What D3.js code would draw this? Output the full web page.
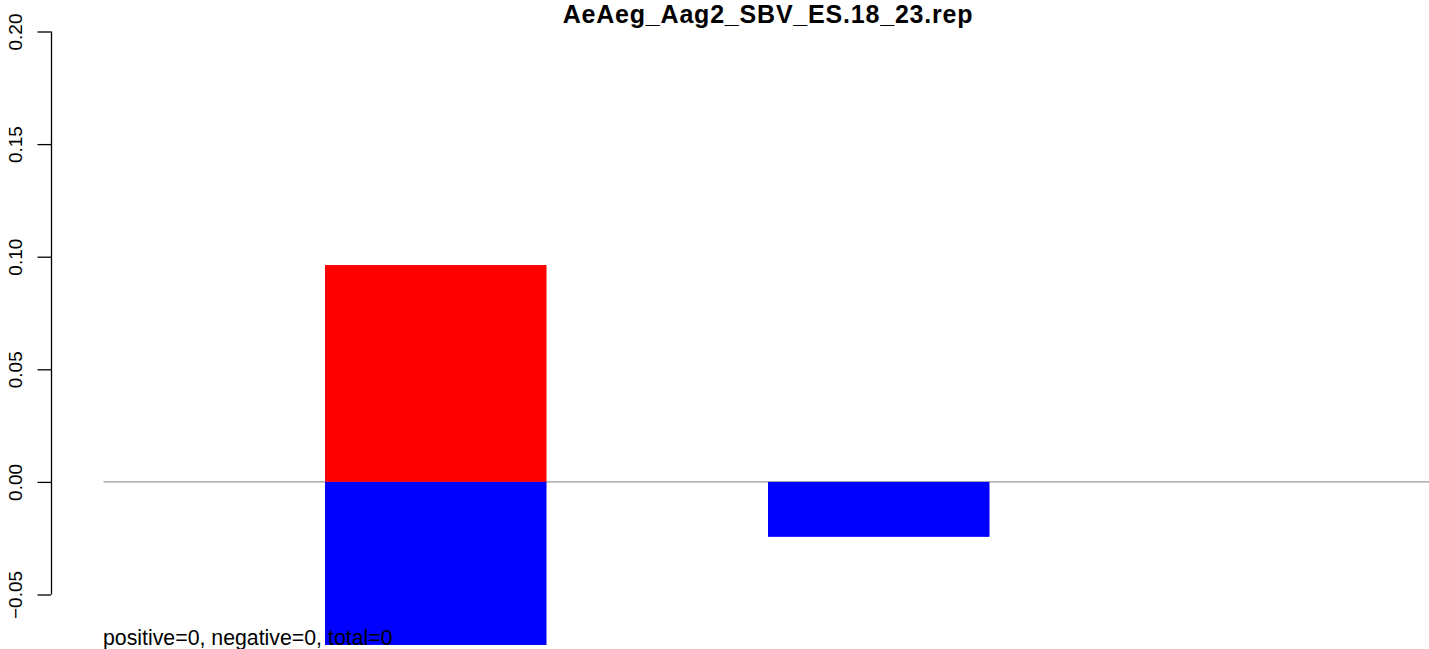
<!DOCTYPE html>
<html>
<head>
<meta charset="utf-8">
<script src="https://cdn.jsdelivr.net/npm/d3@7"></script>
<style>
  html, body { margin: 0; padding: 0; background: #fff; }
  svg { display: block; font-family: "Liberation Sans", Arial, Helvetica, sans-serif; }
</style>
</head>
<body>
<svg id="chart" width="1429" height="649"></svg>
<script>
// ---- data ----
const title = "AeAeg_Aag2_SBV_ES.18_23.rep";
const categories = ["1", "2", "3"];
const positiveValues = [0.0963, 0, 0];
const negativeValues = [-0.0724, -0.0244, 0];
const yTicks = [-0.05, 0.00, 0.05, 0.10, 0.15, 0.20];
const footnote = "positive=0, negative=0, total=0";

// ---- layout ----
const W = 1429, H = 649;
const svg = d3.select("#chart");

const x = d3.scaleLinear().domain([0, categories.length * 2]).range([103.5, 1432.5]);
const y = d3.scaleLinear().domain([-0.05, 0.20]).range([594.5, 31.5]);

// zero reference line
svg.append("line")
  .attr("x1", x(0)).attr("x2", W)
  .attr("y1", y(0)).attr("y2", y(0))
  .attr("stroke", "#808080").attr("stroke-width", 1);

// bars
const bars = categories.map((c, i) => ({ c, i, pos: positiveValues[i], neg: negativeValues[i] }));
svg.selectAll("rect.pos").data(bars).enter().append("rect")
  .attr("class", "pos")
  .attr("x", d => x(2 * d.i + 1))
  .attr("width", d => x(2 * d.i + 2) - x(2 * d.i + 1))
  .attr("y", d => y(Math.max(0, d.pos)))
  .attr("height", d => Math.abs(y(d.pos) - y(0)))
  .attr("fill", "#ff0000");
svg.selectAll("rect.neg").data(bars).enter().append("rect")
  .attr("class", "neg")
  .attr("x", d => x(2 * d.i + 1))
  .attr("width", d => x(2 * d.i + 2) - x(2 * d.i + 1))
  .attr("y", y(0))
  .attr("height", d => Math.abs(y(d.neg) - y(0)))
  .attr("fill", "#0000ff");

// y axis
const axisX = 51;
const yAxis = d3.axisLeft(y).tickValues(yTicks).tickFormat(d3.format(".2f")).tickSize(13.5).tickSizeOuter(0);
const gAxis = svg.append("g").attr("transform", `translate(${axisX},0)`).call(yAxis);
gAxis.select(".domain").attr("stroke", "#000").attr("stroke-width", 1.3).attr("d", `M0.5,${y(0.20)}V${y(-0.05)}`);
gAxis.selectAll(".tick line").attr("stroke", "#000").attr("stroke-width", 1.3);
gAxis.selectAll(".tick text")
  .attr("x", null).attr("dy", null)
  .attr("transform", `translate(${22 - axisX},0) rotate(-90)`)
  .attr("text-anchor", "middle")
  .attr("fill", "#000")
  .style("font-size", "19px")
  .text(d => d < 0 ? "\u2212" + d3.format(".2f")(-d) : d3.format(".2f")(d));

// title
svg.append("text")
  .attr("x", (x(0) + x(categories.length * 2)) / 2)
  .attr("y", 23)
  .attr("text-anchor", "middle")
  .style("font-weight", "bold")
  .style("font-size", "25px")
  .style("letter-spacing", "0.8px")
  .text(title);

// footnote
svg.append("text")
  .attr("x", 103)
  .attr("y", 645)
  .style("font-size", "21.3px")
  .text(footnote);
</script>
</body>
</html>
